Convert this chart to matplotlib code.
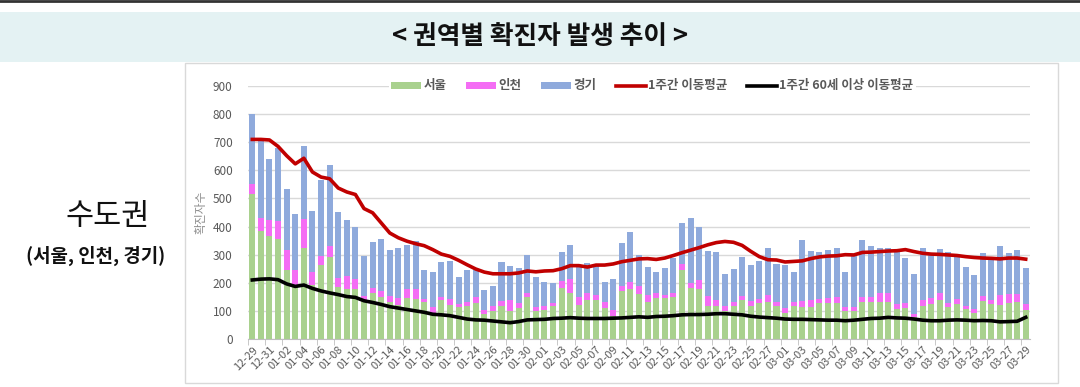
import matplotlib
matplotlib.use("Agg")
import matplotlib.pyplot as plt
from matplotlib.patches import Rectangle, Patch
from matplotlib.lines import Line2D
import numpy as np
import datetime as dt

plt.rcParams['font.family'] = ['Noto Sans CJK KR', 'DejaVu Sans']

# dates 12-29 .. 03-29
start = dt.date(2020, 12, 29)
dates = [(start + dt.timedelta(days=k)).strftime("%m-%d") for k in range(91)]

total = [800, 703, 641, 679, 533, 443, 685, 454, 566, 620,
         451, 422, 400, 294, 345, 357, 317, 323, 336, 350,
         244, 240, 273, 276, 222, 244, 244, 176, 190, 273,
         258, 254, 300, 222, 204, 198, 310, 336, 255, 272,
         258, 203, 214, 341, 381, 298, 255, 240, 251, 288,
         414, 432, 398, 312, 310, 232, 250, 290, 265, 276,
         322, 268, 262, 240, 352, 312, 308, 317, 323, 240,
         298, 352, 331, 323, 323, 317, 289, 231, 323, 300,
         320, 311, 291, 257, 228, 305, 281, 332, 305, 317,
         251]
seoul = [517, 383, 365, 357, 244, 193, 324, 193, 262, 290,
         185, 177, 178, 139, 163, 148, 133, 121, 145, 142,
         130, 92, 139, 121, 113, 118, 127, 88, 100, 118,
         100, 110, 151, 98, 104, 118, 181, 165, 121, 139,
         139, 110, 82, 169, 177, 160, 130, 145, 145, 150,
         246, 181, 177, 118, 118, 101, 118, 139, 118, 127,
         133, 118, 94, 118, 115, 115, 127, 127, 127, 98,
         98, 133, 133, 133, 133, 106, 110, 77, 118, 125,
         139, 115, 125, 106, 94, 136, 125, 121, 127, 133,
         103]
incheon_top = [553, 431, 425, 419, 315, 246, 428, 240, 296, 330,
               217, 225, 213, 154, 181, 169, 154, 145, 177, 177,
               143, 113, 149, 142, 124, 130, 149, 104, 118, 136,
               139, 127, 165, 115, 118, 127, 205, 213, 151, 165,
               157, 131, 104, 189, 201, 190, 157, 163, 157, 165,
               268, 199, 211, 154, 139, 118, 132, 154, 136, 142,
               157, 130, 110, 130, 136, 137, 142, 145, 151, 113,
               115, 151, 151, 163, 163, 125, 127, 89, 139, 145,
               163, 127, 143, 117, 108, 153, 139, 157, 160, 160,
               123]
incheon = [a - b for a, b in zip(incheon_top, seoul)]
gyeonggi = [a - b for a, b in zip(total, incheon_top)]

avg7 = [710, 710, 708, 685, 652, 623, 643, 594, 576, 570,
        537, 523, 514, 464, 449, 413, 377, 360, 348, 339,
        332, 318, 302, 294, 280, 264, 249, 238, 232, 232,
        232, 235, 242, 239, 242, 243, 250, 261, 261, 256,
        263, 263, 267, 275, 280, 285, 286, 283, 288, 297,
        307, 316, 325, 335, 343, 347, 344, 333, 312, 293,
        282, 281, 274, 276, 278, 286, 292, 295, 296, 300,
        299, 308, 309, 311, 313, 314, 318, 311, 305, 302,
        301, 299, 297, 293, 290, 288, 287, 285, 288, 288,
        284]
avg7_60 = [210, 213, 214, 211, 196, 187, 192, 180, 171, 164,
           158, 151, 148, 136, 130, 123, 115, 110, 105, 100,
           95, 88, 86, 83, 77, 71, 68, 67, 64, 61,
           58, 62, 68, 69, 70, 73, 74, 76, 74, 73,
           73, 73, 74, 75, 77, 79, 77, 80, 81, 83,
           86, 87, 87, 88, 90, 90, 88, 86, 81, 78,
           76, 74, 71, 70, 70, 69, 68, 67, 67, 65,
           67, 70, 73, 74, 77, 75, 74, 71, 67, 65,
           65, 67, 68, 67, 65, 66, 65, 61, 62, 63,
           77]

c_green = '#a9d18e'
c_pink = '#f46df4'
c_blue = '#8faadc'
c_red = '#c00000'
txt_gray = '#595959'

W, H = 1080, 387
fig = plt.figure(figsize=(W / 100, H / 100), dpi=100)

# header
fig.add_artist(Line2D([0, 1], [1 - 1 / H, 1 - 1 / H], color='#333333', lw=2,
                      transform=fig.transFigure))
fig.add_artist(Rectangle((0, 1 - 62 / H), 1, 50 / H, transform=fig.transFigure,
                         facecolor='#e4f2f3', edgecolor='none', zorder=-2))
fig.text(540 / W, 1 - 37 / H, '< 권역별 확진자 발생 추이 >', ha='center', va='center',
         fontsize=18.5, fontweight='bold', color='#111111')

# left caption
fig.text(108 / W, 1 - 217 / H, '수도권', ha='center', va='center', fontsize=22,
         color='#111111')
fig.text(96 / W, 1 - 256 / H, '(서울, 인천, 경기)', ha='center', va='center',
         fontsize=13.6, fontweight='bold', color='#111111')

# chart frame
fig.add_artist(Rectangle((185 / W, 1 - 383 / H), 873 / W, 320 / H,
                         transform=fig.transFigure, facecolor='white',
                         edgecolor='#d9d9d9', lw=1, zorder=-1))

ax = fig.add_axes([248 / W, 1 - 339 / H, 782 / W, 253 / H])
ax.patch.set_alpha(0)
x = np.arange(len(dates))
bw = 0.7
ax.bar(x, seoul, bw, color=c_green, zorder=2)
ax.bar(x, incheon, bw, bottom=seoul, color=c_pink, zorder=2)
ax.bar(x, gyeonggi, bw, bottom=incheon_top, color=c_blue, zorder=2)
ax.plot(x, avg7, color=c_red, lw=2.6, zorder=3)
ax.plot(x, avg7_60, color='black', lw=2.6, zorder=3)

ax.set_xlim(-0.5, len(dates) - 0.5)
ax.set_ylim(0, 900)
ax.set_yticks(range(0, 901, 100))
ax.yaxis.grid(True, color='#d9d9d9', lw=1)
ax.set_axisbelow(True)
for s in ['top', 'right', 'left']:
    ax.spines[s].set_visible(False)
ax.spines['bottom'].set_color('#bfbfbf')
ax.tick_params(axis='y', length=0, labelsize=8.5, labelcolor=txt_gray, pad=11)
ax.set_xticks(x[::2])
ax.set_xticklabels(dates[::2], rotation=45, ha='right', rotation_mode='anchor',
                   fontsize=8, color=txt_gray)
ax.set_xticks(np.arange(-0.5, len(dates), 2), minor=True)
ax.tick_params(axis='x', which='major', length=0, pad=4)
ax.tick_params(axis='x', which='minor', length=4, color='#bfbfbf')
ax.set_ylabel('확진자수', fontsize=8.5, color='#8c8c8c', labelpad=4)

handles = [Patch(facecolor=c_green), Patch(facecolor=c_pink), Patch(facecolor=c_blue),
           Line2D([], [], color=c_red, lw=2.6), Line2D([], [], color='black', lw=2.6)]
labels = ['서울', '인천', '경기', '1주간 이동평균', '1주간 60세 이상 이동평균']
leg = ax.legend(handles, labels, loc='center', bbox_to_anchor=(0.517, 1.0), ncol=5,
                frameon=True, fontsize=9, handlelength=2.4, handleheight=0.5,
                handletextpad=0.15, columnspacing=1.6, borderpad=0.2)
leg.get_frame().set_facecolor('white')
leg.get_frame().set_edgecolor('none')
leg.get_frame().set_alpha(1)
for t in leg.get_texts():
    t.set_color(txt_gray)
    t.set_fontweight('bold')

fig.savefig('out.png', dpi=100)
